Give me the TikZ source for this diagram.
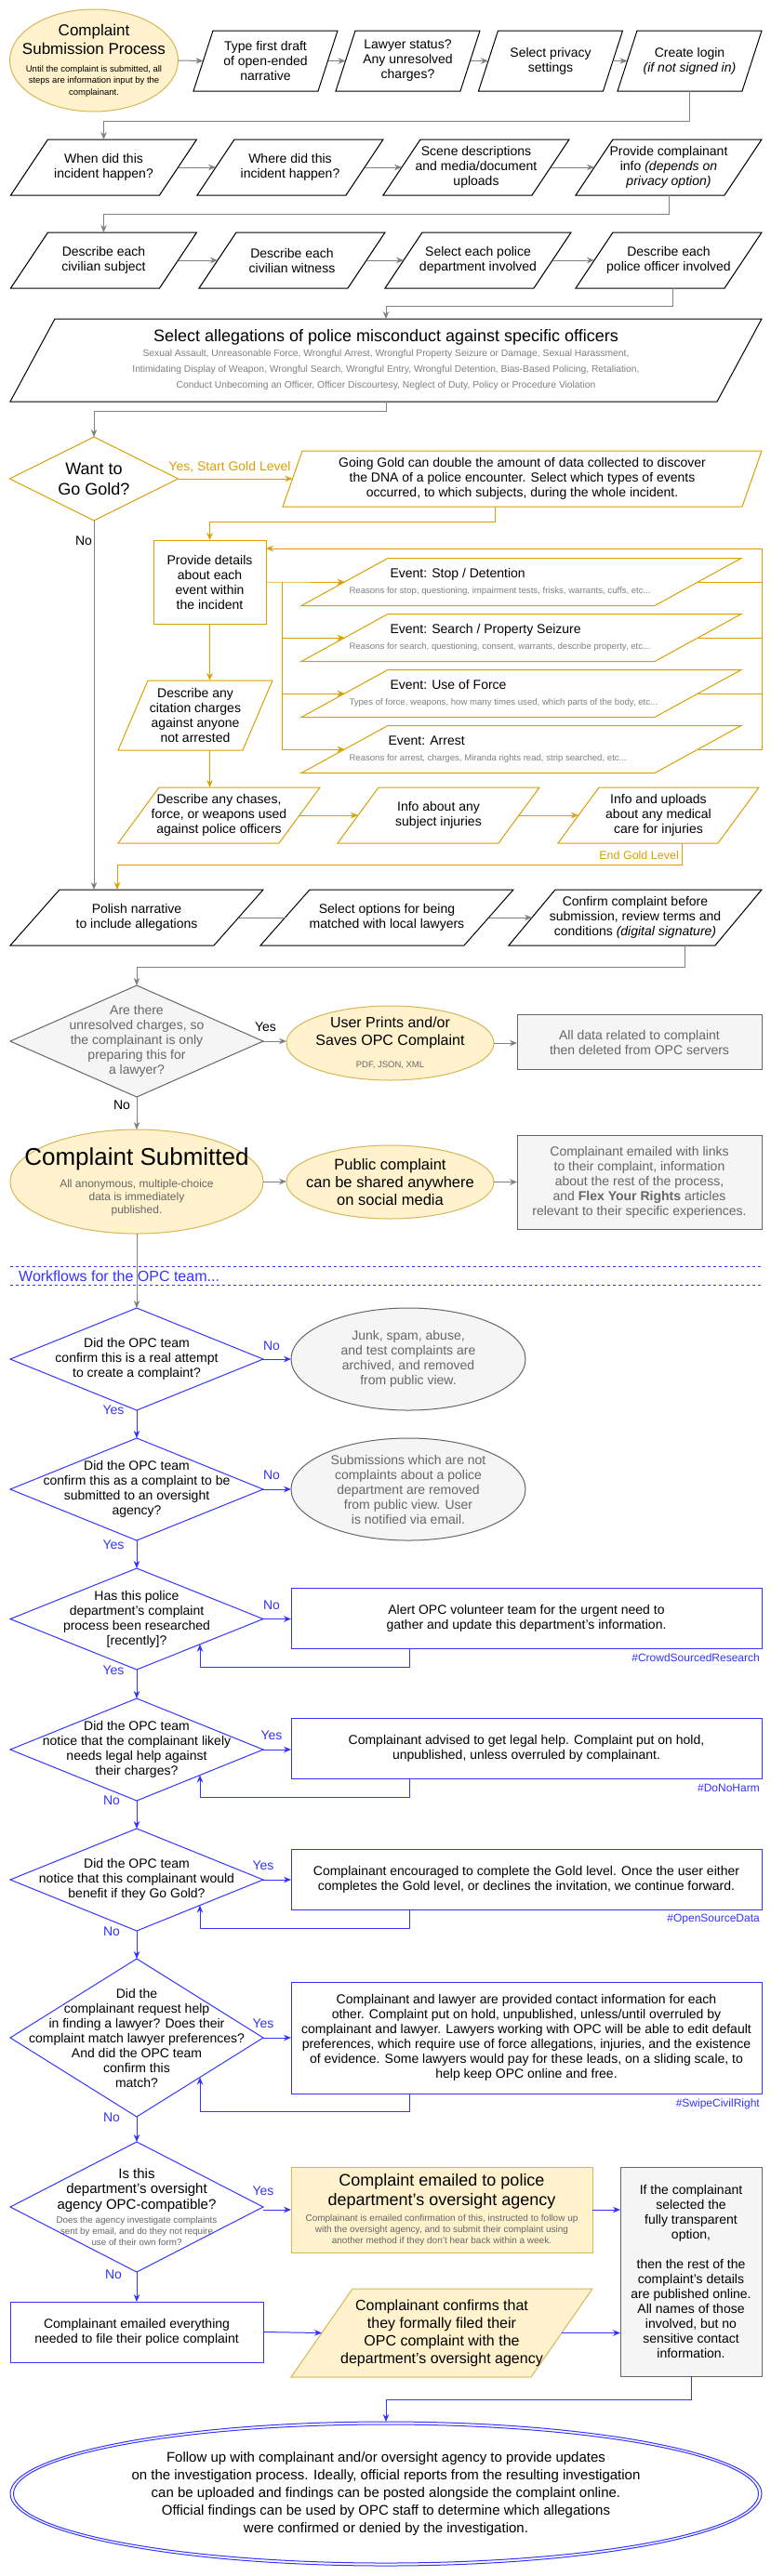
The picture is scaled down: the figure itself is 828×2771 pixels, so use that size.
\documentclass[tikz,border=0pt]{standalone}
\usepackage{fontspec}
\setmainfont{Liberation Sans}
\usetikzlibrary{arrows.meta,calc}
\pgfdeclarelayer{bg}
\pgfsetlayers{bg,main}
\definecolor{lgray}{HTML}{808080}
\definecolor{goldc}{HTML}{D9A000}
\definecolor{yfill}{HTML}{FFF2CC}
\definecolor{ystroke}{HTML}{D6B656}
\definecolor{gfill}{HTML}{F5F5F5}
\definecolor{gstroke}{HTML}{666666}
\definecolor{gtext}{HTML}{666666}
\definecolor{oblue}{HTML}{3333FF}
\newcommand\setfs[2]{\fontsize{#1}{#2}\selectfont}
% parallelogram: style,name,x,y,w,h,skew,opts,text
\newcommand\PARA[9]{%
  \node[txt,minimum width=#5pt,minimum height=#6pt,#8] (#2) at (#3,#4) {#9};
  \begin{pgfonlayer}{bg}
    \path[#1] ([xshift=#7pt]#2.north west) -- (#2.north east) -- ([xshift=-#7pt]#2.south east) -- (#2.south west) -- cycle;
  \end{pgfonlayer}}
% diamond: style,name,x,y,w,h,opts,text
\newcommand\DIAM[8]{%
  \node[txt,minimum width=#5pt,minimum height=#6pt,#7] (#2) at (#3,#4) {#8};
  \begin{pgfonlayer}{bg}
    \path[#1] (#2.north) -- (#2.east) -- (#2.south) -- (#2.west) -- cycle;
  \end{pgfonlayer}}
% ellipse
\newcommand\ELL[8]{%
  \node[txt,minimum width=#5pt,minimum height=#6pt,#7] (#2) at (#3,#4) {#8};
  \begin{pgfonlayer}{bg}
    \path[#1] (#2.center) ellipse [x radius=#5pt/2, y radius=#6pt/2];
  \end{pgfonlayer}}
% rectangle
\newcommand\BOX[8]{%
  \node[txt,#1,minimum width=#5pt,minimum height=#6pt,#7] (#2) at (#3,#4) {#8};}
\tikzset{
  txt/.style={inner sep=0pt, outer sep=0pt, align=center, font=\setfs{14}{16}},
  blk/.style={draw=black, fill=white, line width=1pt},
  gld/.style={draw=goldc, fill=white, line width=1pt},
  ylw/.style={draw=ystroke, fill=yfill, line width=1pt},
  gry/.style={draw=gstroke, fill=gfill, line width=1pt},
  blu/.style={draw=oblue, fill=white, line width=1pt},
  con/.style={draw=lgray, line width=1pt, -{Stealth[length=8pt,width=6.5pt]}},
  gcon/.style={con, draw=goldc},
  bcon/.style={con, draw=oblue},
  lab/.style={inner sep=1pt, font=\setfs{14}{16}},
  blab/.style={lab, text=oblue},
  tag/.style={inner sep=0pt, anchor=east, text=oblue, font=\setfs{12}{14}},
  evtxt/.style={text width=370pt, align=flush left, font=\setfs{14}{17}},
}
\begin{document}
\begin{tikzpicture}[x=1pt,y=-1pt]
\begin{pgfonlayer}{bg}
\fill[white] (0,0) rectangle (828,2771);
\end{pgfonlayer}
\useasboundingbox (0,0) rectangle (828,2771);

% ---------- Row 1
\ELL{ylw}{start}{101}{65}{181}{110}{font=\setfs{17}{20}}{Complaint\\Submission Process\\[-1pt]{\setfs{9.5}{12}Until the complaint is submitted, all}\\[-7.5pt]{\setfs{9.5}{12}steps are information input by the}\\[-7.5pt]{\setfs{9.5}{12}complainant.}}
\PARA{blk}{p1}{285.5}{65.5}{155}{65}{21}{}{Type first draft\\of open-ended\\narrative}
\PARA{blk}{p2}{438.5}{65.5}{155}{65}{21}{}{Lawyer status?\\Any unresolved\\charges?}
\PARA{blk}{p3}{592}{65.5}{155}{65}{21}{}{Select privacy\\settings}
\PARA{blk}{p4}{741.5}{65.5}{155}{65}{21}{}{Create login\\\textit{(if not signed in)}}
\draw[con] (start.east) -- ([xshift=10.5pt]p1.west);
\draw[con] ([xshift=-10.5pt]p1.east) -- ([xshift=10.5pt]p2.west);
\draw[con] ([xshift=-10.5pt]p2.east) -- ([xshift=10.5pt]p3.west);
\draw[con] ([xshift=-10.5pt]p3.east) -- ([xshift=10.5pt]p4.west);

% ---------- Row 2
\PARA{blk}{r2a}{111.5}{180}{200}{60}{40}{}{When did this\\incident happen?}
\PARA{blk}{r2b}{312}{180}{200}{60}{40}{}{Where did this\\incident happen?}
\PARA{blk}{r2c}{512}{180}{200}{60}{40}{}{Scene descriptions\\and media/document\\uploads}
\PARA{blk}{r2d}{719}{180}{200}{60}{40}{}{Provide complainant\\info \textit{(depends on}\\\textit{privacy option)}}
\draw[con] (p4.south) -- ++(0,32) -| (r2a.north);
\draw[con] ([xshift=-20pt]r2a.east) -- ([xshift=20pt]r2b.west);
\draw[con] ([xshift=-20pt]r2b.east) -- ([xshift=20pt]r2c.west);
\draw[con] ([xshift=-20pt]r2c.east) -- ([xshift=20pt]r2d.west);

% ---------- Row 3
\PARA{blk}{r3a}{111.5}{280}{200}{60}{40}{}{Describe each\\civilian subject}
\PARA{blk}{r3b}{314}{280}{200}{60}{40}{}{Describe each\\civilian witness}
\PARA{blk}{r3c}{514}{280}{200}{60}{40}{}{Select each police\\department involved}
\PARA{blk}{r3d}{719}{280}{200}{60}{40}{}{Describe each\\police officer involved}
\draw[con] (r2d.south) -- ++(0,20) -| (r3a.north);
\draw[con] ([xshift=-20pt]r3a.east) -- ([xshift=20pt]r3b.west);
\draw[con] ([xshift=-20pt]r3b.east) -- ([xshift=20pt]r3c.west);
\draw[con] ([xshift=-20pt]r3c.east) -- ([xshift=20pt]r3d.west);

% ---------- Allegations
\PARA{blk}{alleg}{415}{387.5}{808}{89}{48}{font=\setfs{18}{21}}{Select allegations of police misconduct against specific officers\\[-5pt]{\setfs{10.3}{12}\color{lgray}Sexual Assault, Unreasonable Force, Wrongful Arrest, Wrongful Property Seizure or Damage, Sexual Harassment,}\\[-4pt]{\setfs{10.3}{12}\color{lgray}Intimidating Display of Weapon, Wrongful Search, Wrongful Entry, Wrongful Detention, Bias-Based Policing, Retaliation,}\\[-4pt]{\setfs{10.3}{12}\color{lgray}Conduct Unbecoming an Officer, Officer Discourtesy, Neglect of Duty, Policy or Procedure Violation}}
\draw[con] ([xshift=4pt]r3d.south) -- ++(0,19) -| (alleg.north);

% ---------- Gold level
\DIAM{gld}{gold}{101}{515}{181}{90}{font=\setfs{18}{22}}{Want to\\Go Gold?}
\draw[con] (alleg.south) -- ++(0,10) -| (gold.north);
\PARA{gld}{going}{561.5}{515}{515}{60}{21}{}{Going Gold can double the amount of data collected to discover\\the DNA of a police encounter. Select which types of events\\occurred, to which subjects, during the whole incident.}
\draw[gcon] (gold.east) -- ([xshift=10.5pt]going.west);
\node[lab,text=goldc] (yesgold) at (247,502) {Yes, Start Gold Level};
\BOX{gld}{details}{225.5}{626}{121}{90}{}{Provide details\\about each\\event within\\the incident}
\draw[gcon] ([xshift=-29.5pt]going.south) -- ++(0,16) -| (details.north);

\PARA{gld}{ev1}{560.5}{626}{473}{51}{93}{evtxt}{\hspace*{44pt}Event: Stop / Detention\\{\setfs{9.6}{11}\color{lgray}Reasons for stop, questioning, impairment tests, frisks, warrants, cuffs, etc...}}
\PARA{gld}{ev2}{560.5}{686}{473}{51}{93}{evtxt}{\hspace*{44pt}Event: Search / Property Seizure\\{\setfs{9.6}{11}\color{lgray}Reasons for search, questioning, consent, warrants, describe property, etc...}}
\PARA{gld}{ev3}{560.5}{746}{473}{51}{93}{evtxt}{\hspace*{44pt}Event: Use of Force\\{\setfs{9.6}{11}\color{lgray}Types of force, weapons, how many times used, which parts of the body, etc...}}
\PARA{gld}{ev4}{560.5}{806}{473}{51}{93}{evtxt}{\hspace*{42pt}Event: Arrest\\{\setfs{9.6}{11}\color{lgray}Reasons for arrest, charges, Miranda rights read, strip searched, etc...}}

\draw[gcon] (details.east) -- ++(17,0) coordinate (bus) -- ([xshift=46.5pt]ev1.west);
\draw[gcon] (bus) |- ([xshift=46.5pt]ev4.west);
\draw[gcon] (bus |- ev2.west) -- ([xshift=46.5pt]ev2.west);
\draw[gcon] (bus |- ev3.west) -- ([xshift=46.5pt]ev3.west);
\coordinate (rb) at (819,590);
\draw[gcon] ([xshift=-46.5pt]ev4.east) -| (rb) -- (rb -| details.east);
\draw[gcon,-] ([xshift=-46.5pt]ev1.east) -- (ev1.east -| rb);
\draw[gcon,-] ([xshift=-46.5pt]ev2.east) -- (ev2.east -| rb);
\draw[gcon,-] ([xshift=-46.5pt]ev3.east) -- (ev3.east -| rb);

\PARA{gld}{cite}{210}{769.5}{166}{75}{32}{}{Describe any\\citation charges\\against anyone\\not arrested}
\draw[gcon] (details.south) -- (details.south |- cite.north);
\PARA{gld}{chase}{235.5}{877}{217}{60}{44}{}{Describe any chases,\\force, or weapons used\\against police officers}
\draw[gcon] (details.south |- cite.south) -- (details.south |- chase.north);
\PARA{gld}{inj}{471.5}{877}{217}{60}{44}{}{Info about any\\subject injuries}
\PARA{gld}{med}{708}{877}{216}{60}{44}{}{Info and uploads\\about any medical\\care for injuries}
\draw[gcon] ([xshift=-22pt]chase.east) -- ([xshift=22pt]inj.west);
\draw[gcon] ([xshift=-22pt]inj.east) -- ([xshift=22pt]med.west);

% ---------- Polish row
\PARA{blk}{polish}{147}{987}{272}{60}{53}{}{Polish narrative\\to include allegations}
\PARA{blk}{sel}{416}{987}{272}{60}{53}{}{Select options for being\\matched with local lawyers}
\PARA{blk}{conf}{683}{987}{272}{60}{50}{}{Confirm complaint before\\submission, review terms and\\conditions \textit{(digital signature)}}
\draw[gcon] ([xshift=25pt]med.south) -- ++(0,23) -| ([xshift=-21pt]polish.north);
\node[lab,text=goldc,anchor=east,font=\setfs{12.5}{14}] (endgold) at (731,920) {End Gold Level};
\draw[con] (gold.south) -- ([xshift=-46pt]polish.north);
\node[lab] (nogold) at (90,582) {No};
\draw[con,-] ([xshift=-26.5pt]polish.east) -- ([xshift=26.5pt]sel.west);
\draw[con] ([xshift=-26.5pt]sel.east) -- ([xshift=25pt]conf.west);

% ---------- Unresolved charges
\DIAM{gry}{charges}{147}{1120}{272}{120}{text=gtext}{Are there\\unresolved charges, so\\the complainant is only\\preparing this for\\a lawyer?}
\draw[con] ([xshift=53pt]conf.south) -- ++(0,23) -| (charges.north);
\ELL{ylw}{prints}{419.5}{1122}{223}{80}{font=\setfs{16}{19}}{User Prints and/or\\Saves OPC Complaint\\[5pt]{\setfs{9.5}{11}\color{gtext}PDF, JSON, XML}}
\BOX{gry}{alldata}{687.5}{1121}{263}{59}{text=gtext}{All data related to complaint\\then deleted from OPC servers}
\draw[con] (charges.east) -- (charges.east -| prints.west);
\node[lab] (yescharges) at (285.5,1105) {Yes};
\draw[con] (prints.east) -- (prints.east -| alldata.west);
\node[lab] (nocharges) at (131,1189) {No};

% ---------- Submitted
\ELL{ylw}{submitted}{147}{1271}{272}{112}{font=\setfs{26}{28}}{Complaint Submitted\\[-4pt]{\setfs{12}{14}\color{gtext}All anonymous, multiple-choice}\\[-14pt]{\setfs{12}{14}\color{gtext}data is immediately}\\[-14pt]{\setfs{12}{14}\color{gtext}published.}}
\draw[con] (charges.south) -- (submitted.north);
\ELL{ylw}{public}{419.5}{1271.5}{223}{79}{font=\setfs{16.5}{19}}{Public complaint\\can be shared anywhere\\on social media}
\BOX{gry}{links}{687.5}{1271.5}{263}{101}{text=gtext}{Complainant emailed with links\\to their complaint, information\\about the rest of the process,\\and \textbf{Flex Your Rights} articles\\relevant to their specific experiences.}
\draw[con] (submitted.east) -- (submitted.east -| public.west);
\draw[con] (public.east) -- (public.east -| links.west);

% ---------- OPC separator
\draw[oblue,line width=1pt,dash pattern=on 3pt off 3pt] (11,1362) -- (819,1362);
\draw[oblue,line width=1pt,dash pattern=on 3pt off 3pt] (11,1382) -- (819,1382);
\node[inner sep=0pt,anchor=west,text=oblue,font=\setfs{16}{18}] (wf) at (20,1373) {Workflows for the OPC team...};

% ---------- OPC workflow
\DIAM{blu}{d1}{147}{1462}{272}{110}{}{Did the OPC team\\confirm this is a real attempt\\to create a complaint?}
\draw[con] (submitted.south) -- (d1.north);
\ELL{gry}{junk}{439}{1462}{252}{110}{text=gtext}{Junk, spam, abuse,\\and test complaints are\\archived, and removed\\from public view.}
\draw[bcon] (d1.east) -- (junk.west);
\node[blab] (n1) at (292,1448) {No};
\node[blab] (y1) at (122,1517) {Yes};

\DIAM{blu}{d2}{147}{1602}{272}{110}{}{Did the OPC team\\confirm this as a complaint to be\\submitted to an oversight\\agency?}
\draw[bcon] (d1.south) -- (d2.north);
\ELL{gry}{subm}{439}{1602}{252}{110}{text=gtext}{Submissions which are not\\complaints about a police\\department are removed\\from public view. User\\is notified via email.}
\draw[bcon] (d2.east) -- (subm.west);
\node[blab] (n2) at (292,1587) {No};
\node[blab] (y2) at (122,1662) {Yes};

\DIAM{blu}{d3}{147}{1741.5}{272}{109}{}{Has this police\\department's complaint\\process been researched\\{}[recently]?}
\draw[bcon] (d2.south) -- (d3.north);
\BOX{blu}{alert}{566}{1740.5}{506}{65}{}{Alert OPC volunteer team for the urgent need to\\gather and update this department's information.}
\draw[bcon] (d3.east) -- (d3.east -| alert.west);
\draw[bcon] ([xshift=-126pt]alert.south) -- ++(0,20) -| ($(d3.south)!.5!(d3.east)$);
\node[blab] (n3) at (292,1727) {No};
\node[tag] (t3) at (817,1783) {\#CrowdSourcedResearch};
\node[blab] (y3) at (122,1797) {Yes};

\DIAM{blu}{d4}{147}{1882}{272}{110}{}{Did the OPC team\\notice that the complainant likely\\needs legal help against\\their charges?}
\draw[bcon] (d3.south) -- (d4.north);
\BOX{blu}{legal}{566}{1880.5}{506}{65}{}{Complainant advised to get legal help. Complaint put on hold,\\unpublished, unless overruled by complainant.}
\draw[bcon] (d4.east) -- (d4.east -| legal.west);
\draw[bcon] ([xshift=-126pt]legal.south) -- ++(0,20) -| ($(d4.south)!.5!(d4.east)$);
\node[blab] (y4) at (292,1867) {Yes};
\node[tag] (t4) at (817,1923) {\#DoNoHarm};
\node[blab] (n4) at (120,1937) {No};

\DIAM{blu}{d5}{147}{2022}{272}{110}{}{Did the OPC team\\notice that this complainant would\\benefit if they Go Gold?}
\draw[bcon] (d4.south) -- (d5.north);
\BOX{blu}{golden}{566}{2021.5}{506}{65}{}{Complainant encouraged to complete the Gold level. Once the user either\\completes the Gold level, or declines the invitation, we continue forward.}
\draw[bcon] (d5.east) -- (d5.east -| golden.west);
\draw[bcon] ([xshift=-126pt]golden.south) -- ++(0,20) -| ($(d5.south)!.5!(d5.east)$);
\node[blab] (y5) at (283,2007) {Yes};
\node[tag] (t5) at (817,2065) {\#OpenSourceData};
\node[blab] (n5) at (120,2078) {No};

\DIAM{blu}{d6}{147}{2192}{272}{170}{}{Did the\\complainant request help\\in finding a lawyer? Does their\\complaint match lawyer preferences?\\And did the OPC team\\confirm this\\match?}
\draw[bcon] (d5.south) -- (d6.north);
\BOX{blu}{lawyer}{566}{2192}{506}{120}{}{Complainant and lawyer are provided contact information for each\\other. Complaint put on hold, unpublished, unless/until overruled by\\complainant and lawyer. Lawyers working with OPC will be able to edit default\\preferences, which require use of force allegations, injuries, and the existence\\of evidence. Some lawyers would pay for these leads, on a sliding scale, to\\help keep OPC online and free.}
\draw[bcon] (d6.east) -- (d6.east -| lawyer.west);
\draw[bcon] ([xshift=-126pt]lawyer.south) -- ++(0,19) -| ($(d6.south)!.5!(d6.east)$);
\node[blab] (y6) at (283,2177) {Yes};
\node[tag] (t6) at (817,2263) {\#SwipeCivilRight};
\node[blab] (n6) at (120,2278) {No};

\DIAM{blu}{d7}{147}{2374}{272}{140}{font=\setfs{15}{16.5}}{Is this\\department's oversight\\agency OPC-compatible?\\[-1pt]{\setfs{9.8}{12}\color{gtext}Does the agency investigate complaints}\\[-4.5pt]{\setfs{9.8}{12}\color{gtext}sent by email, and do they not require}\\[-4.5pt]{\setfs{9.8}{12}\color{gtext}use of their own form?}}
\draw[bcon] (d6.south) -- (d7.north);
\BOX{ylw}{emailed}{475}{2377}{324}{92}{font=\setfs{18}{21}}{Complaint emailed to police\\department's oversight agency\\[-4pt]{\setfs{10}{12}\color{gtext}Complainant is emailed confirmation of this, instructed to follow up}\\[-9pt]{\setfs{10}{12}\color{gtext}with the oversight agency, and to submit their complaint using}\\[-9pt]{\setfs{10}{12}\color{gtext}another method if they don't hear back within a week.}}
\draw[bcon] (d7.east |- emailed.west) -- (emailed.west);
\node[blab] (y7) at (283,2357) {Yes};
\BOX{gry}{transp}{743}{2443.5}{152}{225}{}{If the complainant\\selected the\\fully transparent\\option,\\[16pt]then the rest of the\\complaint's details\\are published online.\\All names of those\\involved, but no\\sensitive contact\\information.}
\draw[bcon] (emailed.east) -- (emailed.east -| transp.west);
\node[blab] (n7) at (122,2447) {No};

\BOX{blu}{emailev}{147}{2508.5}{272}{65}{}{Complainant emailed everything\\needed to file their police complaint}
\draw[bcon] (d7.south) -- (emailev.north);
\PARA{ylw}{confirms}{475}{2509.5}{324}{95}{66}{font=\setfs{16}{19}}{Complainant confirms that\\they formally filed their\\OPC complaint with the\\department's oversight agency}
\draw[bcon] (emailev.east) -- ([xshift=33pt]confirms.west);
\draw[bcon] ([xshift=-33pt]confirms.east) -- (confirms.east -| transp.west);

% ---------- Final
\node[txt,font=\setfs{15}{19},minimum width=808pt,minimum height=155pt] (final) at (415,2682.5) {Follow up with complainant and/or oversight agency to provide updates\\on the investigation process. Ideally, official reports from the resulting investigation\\can be uploaded and findings can be posted alongside the complaint online.\\Official findings can be used by OPC staff to determine which allegations\\were confirmed or denied by the investigation.};
\begin{pgfonlayer}{bg}
\path[draw=oblue,fill=white,line width=1pt] (final.center) ellipse [x radius=404pt, y radius=77.5pt];
\path[draw=oblue,line width=1pt] (final.center) ellipse [x radius=400.5pt, y radius=74.5pt];
\end{pgfonlayer}
\draw[bcon] (transp.south) -- ++(0,25) -| (final.north);
\end{tikzpicture}
\end{document}
